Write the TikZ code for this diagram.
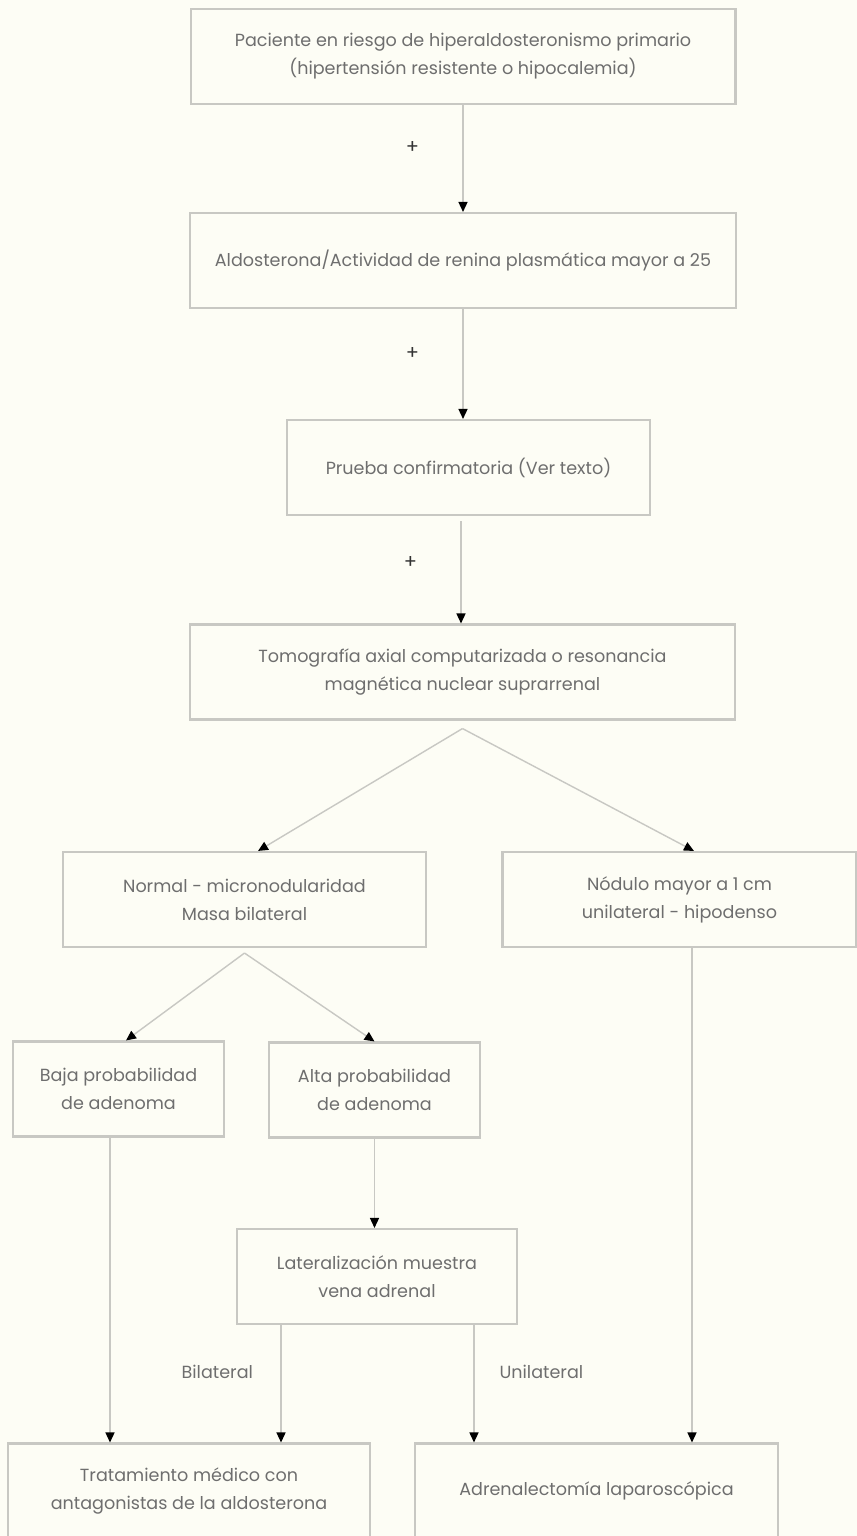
\documentclass[tikz,border=0pt]{standalone}
\usepackage{fontspec}
\setmainfont{Poppins}
\usepackage{tikz}
\usetikzlibrary{arrows.meta, positioning}
\definecolor{paper}{RGB}{253,253,245}
\definecolor{boxline}{RGB}{200,200,195}
\definecolor{flowline}{RGB}{200,200,195}
\definecolor{boxtext}{RGB}{110,110,110}

\begin{document}
\begin{tikzpicture}[
    x=0.02cm, y=-0.02cm,
    box/.style={rectangle, draw=boxline, line width=1.2pt, fill=paper, align=center, minimum height=1.9cm, inner sep=4pt, text=boxtext, font=\fontsize{10}{16}\selectfont},
    arr/.style={draw=flowline, line width=0.8pt, -{Triangle[length=2mm, width=1.8mm, color=black]}},
    lbl/.style={text=boxtext, font=\fontsize{10}{11}\selectfont},
    sign/.style={text=black!80, font=\fontsize{11}{11}\selectfont}
]
% Background
\fill[paper] (0,0) rectangle (857,1536);
\useasboundingbox (0,0) rectangle (857,1536);

% Nodes
\node[box, minimum width=10.9cm] (riesgo) at (463,56.5) {Paciente en riesgo de hiperaldosteronismo primario\\(hipertensión resistente o hipocalemia)};
\node[box, minimum width=10.92cm] (cociente) at (463,260.5) {Aldosterona/Actividad de renina plasmática mayor a 25};
\node[box, minimum width=7.26cm] (prueba) at (468.5,467.5) {Prueba confirmatoria (Ver texto)};
\node[box, minimum width=10.9cm] (imagen) at (462.5,672) {Tomografía axial computarizada o resonancia\\magnética nuclear suprarrenal};

\node[box, minimum width=7.26cm] (normal) at (244.5,899.5) {Normal - micronodularidad\\Masa bilateral};
\node[box, minimum width=7.08cm] (nodulo) at (679.5,899.5) {Nódulo mayor a 1 cm\\unilateral - hipodenso};

\node[box, minimum width=4.22cm] (baja) at (118.5,1089) {Baja probabilidad\\de adenoma};
\node[box, minimum width=4.22cm] (alta) at (374.5,1090) {Alta probabilidad\\de adenoma};
\node[box, minimum width=5.6cm] (lateral) at (377,1276.5) {Lateralización muestra\\vena adrenal};

\node[box, minimum width=7.24cm] (medico) at (189,1491) {Tratamiento médico con\\antagonistas de la aldosterona};
\node[box, minimum width=7.26cm] (cirugia) at (596.5,1491) {Adrenalectomía laparoscópica};

\coordinate (splitA) at ([yshift=-0.16cm]imagen.south);
\coordinate (splitB) at ([yshift=-0.1cm]normal.south);

% Arrows
\draw[arr] (riesgo.south) -- (riesgo.south |- cociente.north) node[sign, pos=0.4, left=0.75cm] {+};
\draw[arr] (cociente.south) -- (cociente.south |- prueba.north) node[sign, pos=0.4, left=0.75cm] {+};
\draw[arr] ([xshift=-0.15cm, yshift=-0.1cm]prueba.south) -- ([xshift=-0.15cm]prueba.south |- imagen.north) node[sign, pos=0.4, left=0.75cm] {+};

\draw[arr] (splitA) -- ([xshift=0.27cm]normal.north);
\draw[arr] (splitA) -- ([xshift=0.29cm]nodulo.north);

\draw[arr] (splitB) -- ([xshift=0.15cm]baja.north);
\draw[arr] (splitB) -- (alta.north);

\draw[arr] ([xshift=-0.17cm]baja.south) -- ([xshift=-0.17cm]baja.south |- medico.north);
\draw[arr] (alta.south) -- (alta.south |- lateral.north);
\draw[arr] ([xshift=-1.92cm]lateral.south) -- ([xshift=-1.92cm]lateral.south |- medico.north) node[lbl, pos=0.4, left=0.43cm] {Bilateral};
\draw[arr] ([xshift=1.94cm]lateral.south) -- ([xshift=1.94cm]lateral.south |- cirugia.north) node[lbl, pos=0.4, right=0.38cm] {Unilateral};
\draw[arr] ([xshift=0.25cm]nodulo.south) -- ([xshift=0.25cm]nodulo.south |- cirugia.north);

\end{tikzpicture}
\end{document}
